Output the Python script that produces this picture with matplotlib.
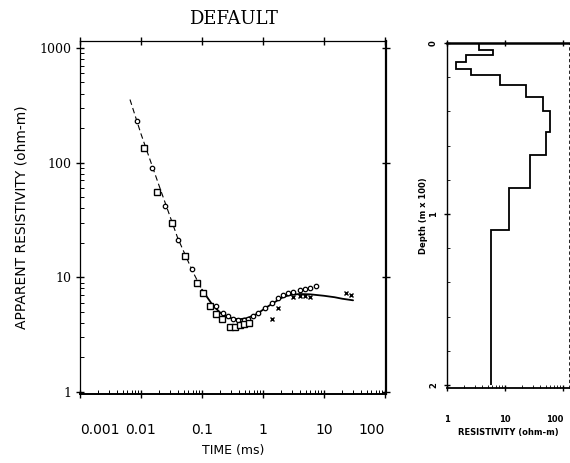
import matplotlib
matplotlib.use('Agg')
import matplotlib.pyplot as plt
import numpy as np
from matplotlib.ticker import FixedLocator, NullFormatter, FixedFormatter

# ---------------- data ----------------
# model (fitted) apparent-resistivity curve
model_t = [0.0066, 0.01, 0.02, 0.04, 0.07, 0.1, 0.15, 0.2, 0.3, 0.4, 0.55, 0.8,
           1.1, 1.5, 2.0, 2.5, 3.0, 4.0, 6.0, 10, 15, 20, 30]
model_rho = [355, 178, 62, 22, 11.3, 7.8, 5.7, 4.9, 4.4, 4.3, 4.4, 4.8,
             5.4, 6.0, 6.6, 6.9, 7.05, 7.15, 7.1, 6.9, 6.7, 6.5, 6.3]
dash_until = 0.1   # model drawn dashed up to this time

# observed data, circles (early time + upper branch)
circ_t = [0.0085, 0.015, 0.025, 0.041, 0.068,
          0.17, 0.22, 0.27, 0.32, 0.39, 0.48, 0.575, 0.69, 0.83, 1.07, 1.38,
          1.78, 2.15, 2.6, 3.15, 4.05, 4.9, 5.9, 7.4]
circ_rho = [229, 89, 42, 21, 11.7,
            5.6, 4.9, 4.6, 4.37, 4.26, 4.23, 4.3, 4.6, 4.9, 5.45, 6.0,
            6.6, 6.95, 7.3, 7.5, 7.8, 7.95, 8.1, 8.4]

# observed data, squares
sq_t = [0.011, 0.018, 0.032, 0.053, 0.082, 0.105, 0.135, 0.17, 0.21, 0.29,
        0.35, 0.42, 0.48, 0.58]
sq_rho = [134, 56, 30, 15.3, 8.9, 7.3, 5.6, 4.77, 4.3, 3.65,
          3.7, 3.8, 3.9, 4.0]

# observed data, small crosses
x_t = [1.38, 1.78, 3.15, 4.05, 4.9, 5.9, 23.4, 28]
x_rho = [4.37, 5.45, 6.8, 6.85, 6.85, 6.8, 7.25, 7.0]

# layered model (depth in m x 100)
depth_edges = [0, 0.04, 0.07, 0.11, 0.15, 0.19, 0.247, 0.316, 0.40, 0.52,
               0.657, 0.85, 1.095, 2.0]
layer_rho = [3.5, 6.3, 2.1, 1.45, 2.6, 8.3, 23, 46, 60, 51, 26.6, 11.9, 5.8]

time_ticks = [0.001, 0.01, 0.1, 1, 10, 100]
time_labels = ['0.001', '0.01', '0.1', '1', '10', '100']
rho_ticks = [1, 10, 100, 1000]
rho_labels = ['1', '10', '100', '1000']
res_ticks = [1, 10, 100]
res_labels = ['1', '10', '100']
depth_ticks = [0, 1, 2]
depth_labels = ['0', '1', '2']

# ---------------- figure ----------------
W, H = 570, 463
fig = plt.figure(figsize=(W / 100, H / 100), dpi=100)

def box(l, r, t, b):
    return [l / W, (H - b) / H, (r - l) / W, (b - t) / H]

ax = fig.add_axes(box(80, 386, 41, 394))
ax.set_xscale('log')
ax.set_yscale('log')
ax.set_xlim(1e-3, 104)
ax.set_ylim(0.96, 1150)

mt = np.array(model_t)
mr = np.array(model_rho)
early = mt <= dash_until
ax.plot(mt[early], mr[early], color='black', lw=0.8, dashes=(5, 3))
late = mt >= dash_until
ax.plot(mt[late], mr[late], color='black', lw=1.3, solid_capstyle='round')

ax.plot(circ_t, circ_rho, 'o', ms=3.2, mfc='white', mec='black', mew=0.9)
ax.plot(sq_t, sq_rho, 's', ms=4.2, mfc='white', mec='black', mew=1.0)
ax.plot(x_t, x_rho, 'x', ms=3, color='black', mew=1.0)

for s in ax.spines.values():
    s.set_color('black')
ax.spines['left'].set_linewidth(0.9)
ax.spines['top'].set_linewidth(0.9)
ax.spines['right'].set_linewidth(1.6)
ax.spines['bottom'].set_linewidth(1.4)

ax.xaxis.set_major_locator(FixedLocator(time_ticks))
ax.xaxis.set_major_formatter(FixedFormatter(time_labels))
ax.xaxis.set_minor_formatter(NullFormatter())
ax.yaxis.set_major_locator(FixedLocator(rho_ticks))
ax.yaxis.set_major_formatter(FixedFormatter(rho_labels))
ax.yaxis.set_minor_formatter(NullFormatter())

ax.tick_params(axis='x', which='major', direction='inout', length=6, width=1,
               top=True, pad=18, labelsize=10, labelcolor='black')
ax.tick_params(axis='x', which='minor', direction='in', length=3, width=0.7, top=False)
ax.tick_params(axis='y', which='major', direction='inout', length=6, width=1,
               right=True, pad=3, labelsize=9)
ax.tick_params(axis='y', which='minor', direction='in', length=3, width=0.7, right=False)

for lab in ax.get_yticklabels():
    lab.set_fontfamily('DejaVu Serif')
xl = ax.get_xticklabels()
for lab in xl:
    lab.set_fontfamily('DejaVu Sans')
xl[0].set_ha('left')
xl[-1].set_ha('right')

ax.set_xlabel('TIME (ms)', fontsize=9, family='DejaVu Sans', labelpad=5)
ax.set_ylabel('APPARENT RESISTIVITY (ohm-m)', fontsize=10, family='DejaVu Sans', labelpad=8)
ax.set_title('DEFAULT', fontsize=13, family='DejaVu Serif', pad=12)

# ---------------- right panel ----------------
ax2 = fig.add_axes(box(447, 569, 43, 388))
ax2.set_xscale('log')
ax2.set_xlim(1, 127)
ax2.set_ylim(2.0175, 0)
ax2.stairs(layer_rho, depth_edges, orientation='horizontal', baseline=None,
           color='black', lw=1.3)

ax2.spines['top'].set_linewidth(1.8)
ax2.spines['bottom'].set_linewidth(1.3)
ax2.spines['left'].set_linewidth(1.0)
ax2.spines['right'].set_linewidth(0.6)
ax2.spines['right'].set_linestyle((0, (3, 4)))

ax2.xaxis.set_major_locator(FixedLocator(res_ticks))
ax2.xaxis.set_major_formatter(FixedFormatter(res_labels))
ax2.xaxis.set_minor_formatter(NullFormatter())
ax2.yaxis.set_major_locator(FixedLocator(depth_ticks))
ax2.yaxis.set_major_formatter(FixedFormatter(depth_labels))
ax2.yaxis.set_minor_locator(FixedLocator([0.2, 0.4, 0.6, 0.8, 1.2, 1.4, 1.6, 1.8]))

ax2.tick_params(axis='x', which='major', direction='inout', length=5, width=1,
                top=True, pad=20, labelsize=6)
ax2.tick_params(axis='x', which='minor', direction='in', length=2, width=0.6)
ax2.tick_params(axis='y', which='major', direction='inout', length=5, width=1,
                pad=4, labelsize=6, labelrotation=90)
ax2.tick_params(axis='y', which='minor', direction='in', length=2.5, width=0.6)
for lab in ax2.get_xticklabels() + ax2.get_yticklabels():
    lab.set_fontweight('bold')
    lab.set_va('center')
ax2.get_xticklabels()[-1].set_ha('right')

ax2.set_xlabel('RESISTIVITY (ohm-m)', fontsize=6, fontweight='bold', labelpad=3)
ax2.set_ylabel('Depth (m x 100)', fontsize=6, fontweight='bold', labelpad=1)

fig.savefig('out.png', dpi=100)
